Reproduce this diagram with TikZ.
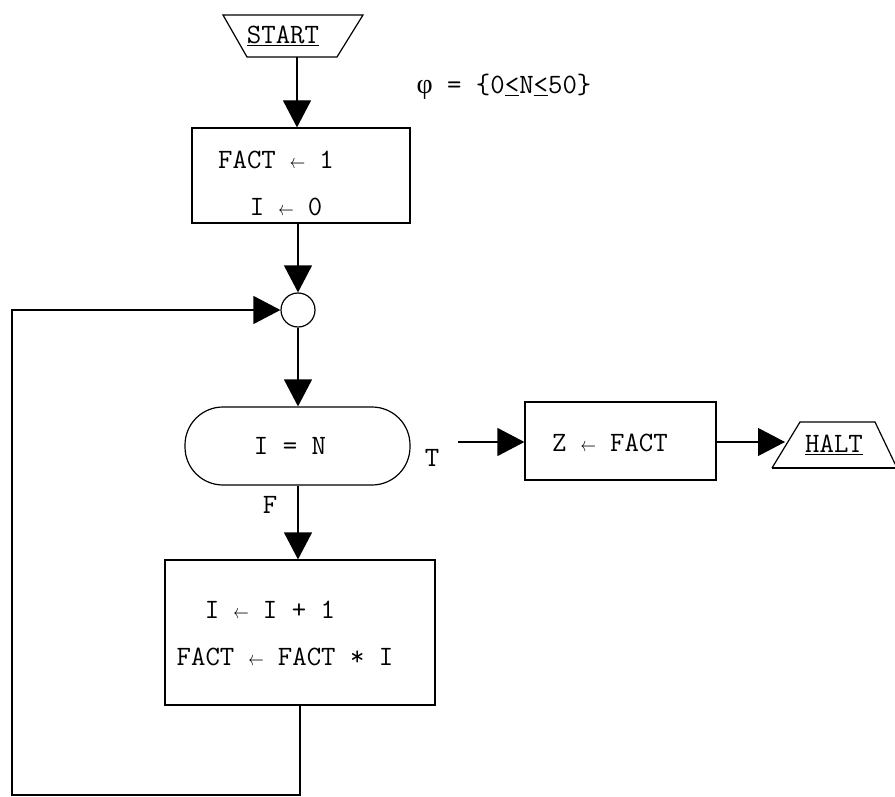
\documentclass[tikz,border=0pt]{standalone}
\usepackage{fontspec}
\newfontfamily\grkfont{Liberation Serif}
\usetikzlibrary{arrows.meta}
\newcommand\larr{\makebox[0.525em]{\scalebox{0.62}[0.8]{$\leftarrow$}}}
\begin{document}
\begin{tikzpicture}[x=1pt,y=-1pt,line width=1.2pt,
  lbl/.style={font=\fontsize{28}{30}\selectfont\ttfamily,inner sep=0pt},
  boxn/.style={draw,rectangle,inner sep=0pt},
  arr/.style={-{Triangle[length=27pt,width=28pt]}}]
\useasboundingbox (0,0) rectangle (895,797);

% START
\coordinate (s1) at (223,15); \coordinate (s2) at (363,15);
\coordinate (s3) at (337,57); \coordinate (s4) at (247,57);
\draw (s1) -- (s2) -- (s3) -- (s4) -- cycle;
\node[lbl] (start) at (283,36) {\underline{START}};
\coordinate (st) at (297,57);

% precondition
\node[lbl,anchor=west] (phi) at (416,87) {{\grkfont φ} = \{0\underline{<}N\underline{<}50\}};

% box 1
\node[boxn,minimum width=218pt,minimum height=95pt] (b1) at (301,175.5) {};
\node[lbl] (b1a) at (276,160) {FACT \larr{} 1};
\node[lbl] (b1b) at (286,207) {I \larr{} 0};

% connector circle
\node[draw,circle,minimum size=34pt,inner sep=0pt] (c) at (298,310) {};

% decision
\node[draw,rectangle,rounded corners=38pt,minimum width=225pt,minimum height=78pt] (d) at (297.5,446) {};
\node[lbl] (dt) at (290,446) {I = N};
\node[lbl] (tl) at (432,458) {T};
\node[lbl] (fl) at (270,505) {F};
\coordinate (tstart) at (458,442);

% Z box
\node[boxn,minimum width=191pt,minimum height=78pt] (z) at (620.5,441) {};
\node[lbl] (zt) at (610,443) {Z \larr{} FACT};

% HALT
\coordinate (h1) at (800,422); \coordinate (h2) at (875,422);
\coordinate (h3) at (897,468); \coordinate (h4) at (772,468);
\draw (h4) -- (h1) -- (h2) -- (h3);
\draw (h4) -- (h3);
\node[lbl] (halt) at (834,445) {\underline{HALT}};
\coordinate (hin) at (785,442);

% box 3
\node[boxn,minimum width=270pt,minimum height=145pt] (b3) at (300,632.5) {};
\node[lbl] (b3a) at (270,610) {I \larr{} I + 1};
\node[lbl] (b3b) at (285,657) {FACT \larr{} FACT * I};

% loop corner
\coordinate (lc) at (12,795);

% connectors
\draw[arr] (st) -- (b1.north -| st);
\draw[arr] (b1.south -| c) -- (c.north);
\draw[arr] (c.south) -- (d.north -| c);
\draw[arr] (d.south -| c) -- (b3.north -| c);
\draw[arr] (tstart) -- (z.west |- tstart);
\draw[arr] (z.east |- hin) -- (hin);
\draw[arr] (b3.south) |- (lc) |- (c.west);
\end{tikzpicture}
\end{document}
